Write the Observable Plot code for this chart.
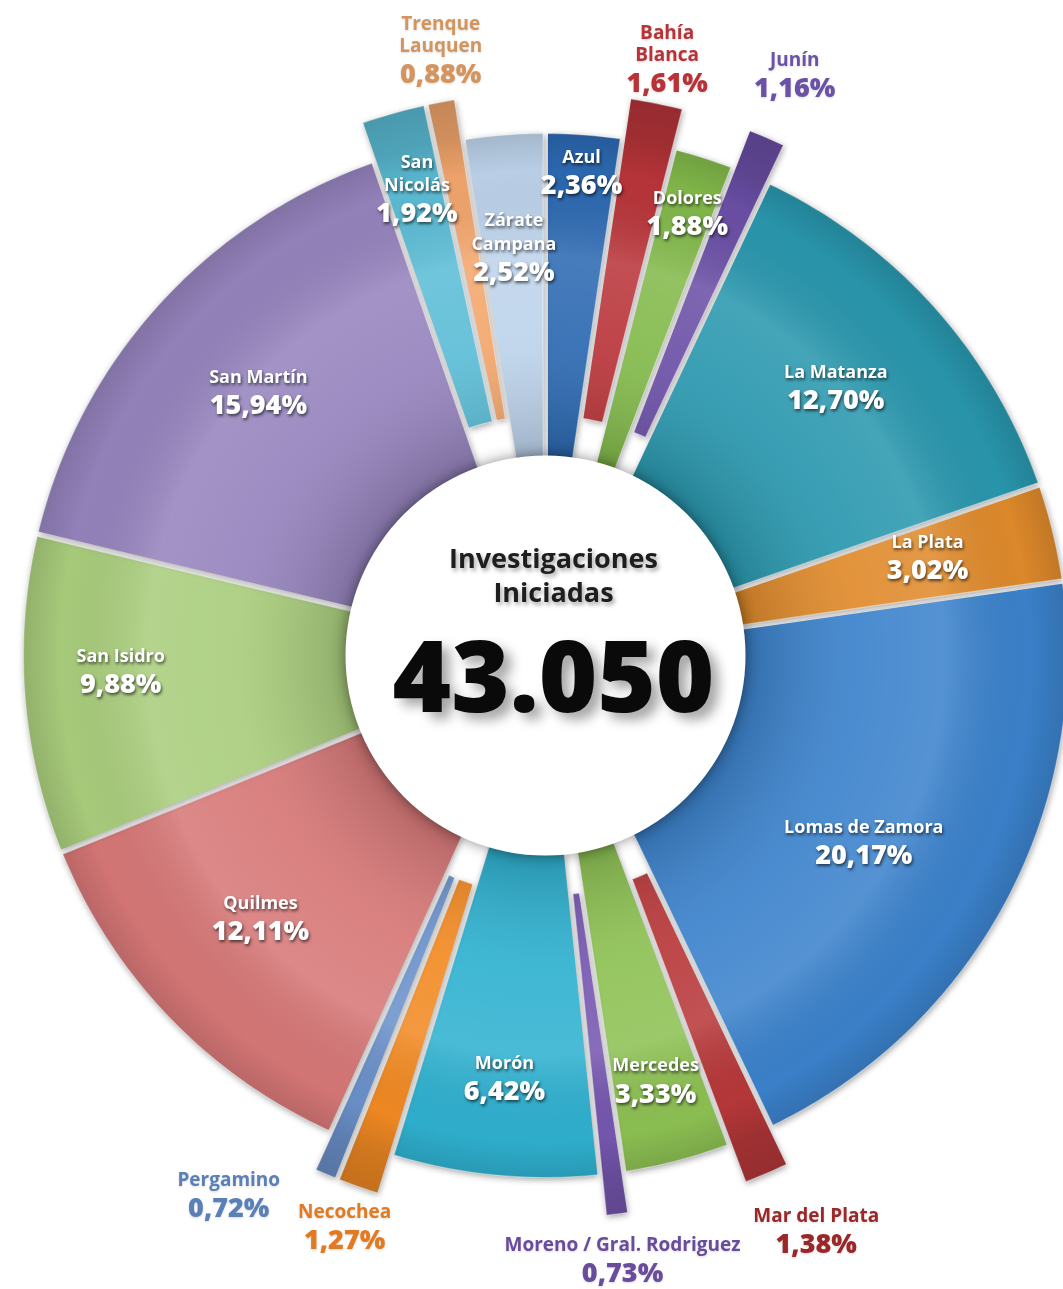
<!DOCTYPE html>
<html>
<head>
<meta charset="utf-8">
<script src="https://cdn.jsdelivr.net/npm/d3@7"></script>
<script src="https://cdn.jsdelivr.net/npm/@observablehq/plot@0.6"></script>
<style>
  html, body { margin: 0; padding: 0; background: #ffffff; }
  #chart svg { display: block; }
  .wedges path { filter: drop-shadow(1px 2px 3px rgba(0,0,0,0.35)); }
  .disk circle { filter: drop-shadow(0px 0px 7px rgba(0,0,0,0.45)); }
  .lbl-in text { filter: drop-shadow(1.5px 2px 1.5px rgba(0,0,0,0.6)); }
  .lbl-out text { filter: drop-shadow(0.5px 1px 1px rgba(0,0,0,0.15)); }
  .title text { filter: drop-shadow(2px 3px 2px rgba(0,0,0,0.35)); }
  .total text { filter: drop-shadow(8px 7px 6px rgba(0,0,0,0.35)); }
</style>
</head>
<body>
<div id="chart"></div>
<script>
// ---------------- DATA ----------------
const departamentos = [
  "Azul", "Bahía Blanca", "Dolores", "Junín", "La Matanza", "La Plata",
  "Lomas de Zamora", "Mar del Plata", "Mercedes", "Moreno / Gral. Rodriguez",
  "Morón", "Necochea", "Pergamino", "Quilmes", "San Isidro", "San Martín",
  "San Nicolás", "Trenque Lauquen", "Zárate Campana"
];
const porcentajes = [
  2.36, 1.61, 1.88, 1.16, 12.70, 3.02,
  20.17, 1.38, 3.33, 0.73,
  6.42, 1.27, 0.72, 12.11, 9.88, 15.94,
  1.92, 0.88, 2.52
];
const totalInvestigaciones = 43050;
const tituloCentro = ["Investigaciones", "Iniciadas"];

// ---------------- STYLE ----------------
const coloresSegmento = [
  "#2c69b2", "#b9353a", "#82b94a", "#6b4fa6", "#2997ae", "#e08a2b",
  "#3b82cc", "#b8383a", "#8dc153", "#7657b0",
  "#2fb1d0", "#f28a23", "#6b91cb", "#d77777", "#a9cd7c", "#9583bd",
  "#5bbdd6", "#f3a66c", "#bdd3eb"
];
const separados = new Set(["Bahía Blanca", "Junín", "Mar del Plata", "Moreno / Gral. Rodriguez",
  "Necochea", "Pergamino", "San Nicolás", "Trenque Lauquen"]);
const etiquetaExterior = {
  "Bahía Blanca": "#b83238",
  "Junín": "#6b51a8",
  "Mar del Plata": "#9b2828",
  "Moreno / Gral. Rodriguez": "#6a4c9c",
  "Necochea": "#e27a22",
  "Pergamino": "#5b80b8",
  "Trenque Lauquen": "#d4945d"
};
const partirNombre = new Set(["Bahía Blanca", "San Nicolás", "Trenque Lauquen", "Zárate Campana"]);
// label placement (radius in px from centre, angular nudge in degrees)
const radioEtiquetaEspecial = {
  "Zárate Campana": 400, "Azul": 487, "Dolores": 467, "Lomas de Zamora": 368,
  "Mercedes": 437, "Morón": 422, "Quilmes": 386, "San Isidro": 425, "La Matanza": 397,
  "La Plata": 395, "San Martín": 391,
  "Trenque Lauquen": 606, "Bahía Blanca": 600, "Junín": 634, "Mar del Plata": 634,
  "Moreno / Gral. Rodriguez": 607, "Necochea": 604, "Pergamino": 624
};
const giroEtiqueta = {
  "Pergamino": 7.5, "San Isidro": 2.5, "Quilmes": 1.5, "Mar del Plata": -2.2,
  "Lomas de Zamora": 2, "La Matanza": -1.1, "La Plata": -1.1, "San Martín": 0.6,
  "Trenque Lauquen": 0.7, "Bahía Blanca": 0.3
};

const W = 1063, H = 1289, CX = 545, CY = 655;
const R_IN = 198, R_OUT = 522, R_IN_SEP = 240, R_OUT_SEP = 563;
const HALF_GAP = 2.5;
const DISK_R = 200;

// ---------------- GEOMETRY ----------------
const locale = d3.formatLocale({decimal: ",", thousands: ".", grouping: [3], currency: ["$", ""]});
const fmtPct = locale.format(".2f");
const fmtTotal = locale.format(",d");

const rad = (deg) => deg * Math.PI / 180;
let acumulado = 0;
const segmentos = departamentos.map((name, i) => {
  const p = porcentajes[i];
  const a0 = rad(acumulado * 3.6), a1 = rad((acumulado + p) * 3.6);
  acumulado += p;
  const sep = separados.has(name);
  return {name, p, a0, a1, mid: (a0 + a1) / 2,
    rIn: sep ? R_IN_SEP : R_IN, rOut: sep ? R_OUT_SEP : R_OUT, color: coloresSegmento[i]};
});

const puntos = [];
for (const s of segmentos) {
  const n = Math.max(4, Math.ceil((s.a1 - s.a0) / rad(0.8)));
  const pi = HALF_GAP / s.rIn, po = HALF_GAP / s.rOut;
  for (let k = 0; k <= n; k++) {
    const a = (s.a0 + pi) + (s.a1 - s.a0 - 2 * pi) * k / n;
    puntos.push({name: s.name, color: s.color, x: s.rIn * Math.sin(a), y: s.rIn * Math.cos(a)});
  }
  for (let k = n; k >= 0; k--) {
    const a = (s.a0 + po) + (s.a1 - s.a0 - 2 * po) * k / n;
    puntos.push({name: s.name, color: s.color, x: s.rOut * Math.sin(a), y: s.rOut * Math.cos(a)});
  }
}

const etiquetas = segmentos.map((s) => {
  const outside = s.name in etiquetaExterior;
  let r = outside ? 612 : (s.p >= 3 ? 400 : 475);
  if (s.name in radioEtiquetaEspecial) r = radioEtiquetaEspecial[s.name];
  const a = s.mid + rad(giroEtiqueta[s.name] || 0);
  return {
    name: s.name,
    outside,
    color: outside ? etiquetaExterior[s.name] : "white",
    nameText: partirNombre.has(s.name) ? s.name.replace(" ", "\n") : s.name,
    pctText: fmtPct(s.p) + "%",
    x: r * Math.sin(a), y: r * Math.cos(a)
  };
});
const dentro = etiquetas.filter(d => !d.outside);
const fuera = etiquetas.filter(d => d.outside);

const FONT = "'Open Sans', 'Noto Sans', sans-serif";

const svg = Plot.plot({
  width: W, height: H,
  marginTop: 0, marginRight: 0, marginBottom: 0, marginLeft: 0,
  x: {domain: [-CX, W - CX], axis: null},
  y: {domain: [CY - H, CY], axis: null},
  color: {type: "identity"},
  style: {background: "white", overflow: "hidden"},
  marks: [
    Plot.line(puntos, {x: "x", y: "y", z: "name", fill: "color", stroke: "rgba(255,255,255,0.45)",
      strokeWidth: 1.2, curve: "linear", className: "wedges"}),
    Plot.line(puntos, {x: "x", y: "y", z: "name", fill: "url(#shade)", stroke: "none", curve: "linear"}),
    Plot.dot([{x: 0, y: 0}], {x: "x", y: "y", r: DISK_R, fill: "white", stroke: "none", className: "disk"}),
    Plot.text([tituloCentro.join("\n")], {x: 8, y: 81, text: d => d, fontFamily: FONT, fontWeight: 700,
      fontSize: 27, fill: "#1e1e1e", lineHeight: 1.25, lineAnchor: "middle", className: "title"}),
    Plot.text([fmtTotal(totalInvestigaciones)], {x: 8, y: -24, text: d => d, fontFamily: FONT, fontWeight: 800,
      fontSize: 100, fill: "#0a0a0a", lineAnchor: "middle", className: "total"}),
    // inside labels
    Plot.text(dentro, {x: "x", y: "y", text: "nameText", lineAnchor: "bottom", dy: -7, fontFamily: FONT,
      fontWeight: 700, fontSize: 18, lineHeight: 1.3, fill: "white", className: "lbl-in"}),
    Plot.text(dentro, {x: "x", y: "y", text: "pctText", lineAnchor: "top", dy: 5, fontFamily: FONT,
      fontWeight: 800, fontSize: 27, fill: "white", className: "lbl-in"}),
    // outside labels
    Plot.text(fuera, {x: "x", y: "y", text: "nameText", lineAnchor: "bottom", dy: -7, fontFamily: FONT,
      fontWeight: 700, fontSize: 19, lineHeight: 1.13, fill: "color", className: "lbl-out"}),
    Plot.text(fuera, {x: "x", y: "y", text: "pctText", lineAnchor: "top", dy: 5, fontFamily: FONT,
      fontWeight: 800, fontSize: 27, fill: "color", className: "lbl-out"})
  ]
});

d3.select(svg).insert("defs", ":first-child").html(`
  <radialGradient id="shade" gradientUnits="userSpaceOnUse" cx="${CX}" cy="${CY}" r="570">
    <stop offset="0" stop-color="#000" stop-opacity="0.2"/>
    <stop offset="0.35" stop-color="#000" stop-opacity="0.16"/>
    <stop offset="0.55" stop-color="#fff" stop-opacity="0.08"/>
    <stop offset="0.70" stop-color="#fff" stop-opacity="0.13"/>
    <stop offset="0.85" stop-color="#000" stop-opacity="0.02"/>
    <stop offset="0.92" stop-color="#000" stop-opacity="0.14"/>
    <stop offset="1" stop-color="#000" stop-opacity="0.2"/>
  </radialGradient>`);

document.getElementById("chart").appendChild(svg);
</script>
</body>
</html>
